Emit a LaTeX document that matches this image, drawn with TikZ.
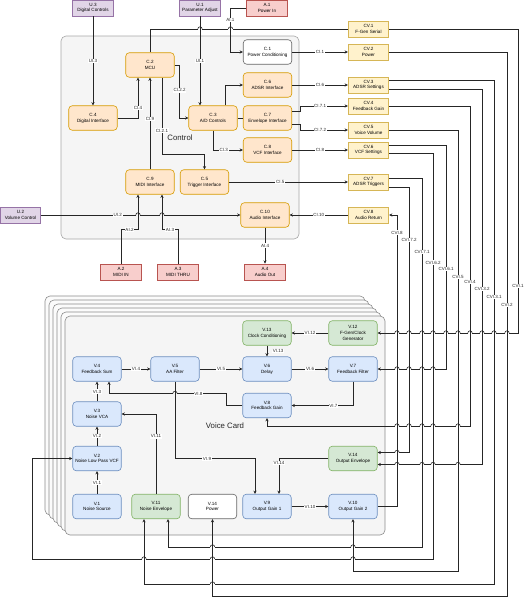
\documentclass[tikz,border=0pt]{standalone}
\usepackage{fontspec}
\setmainfont{Liberation Sans}
\usetikzlibrary{arrows.meta,calc}
\definecolor{oF}{HTML}{FFE6CC}\definecolor{oS}{HTML}{D79B00}
\definecolor{bF}{HTML}{DAE8FC}\definecolor{bS}{HTML}{6C8EBF}
\definecolor{gF}{HTML}{D5E8D4}\definecolor{gS}{HTML}{82B366}
\definecolor{pF}{HTML}{E1D5E7}\definecolor{pS}{HTML}{9673A6}
\definecolor{rF}{HTML}{F8CECC}\definecolor{rS}{HTML}{B85450}
\definecolor{yF}{HTML}{FFF2CC}\definecolor{yS}{HTML}{D6B656}
\definecolor{cF}{HTML}{F5F5F5}\definecolor{cS}{HTML}{666666}
\tikzset{
 nbox/.style={draw, rounded corners=3.5pt, minimum width=48.5pt, minimum height=24.5pt, align=center, inner sep=0pt, font=\fontsize{4.6}{5.8}\selectfont, line width=0.6pt},
 obox/.style={nbox, fill=oF, draw=oS},
 bbox/.style={nbox, fill=bF, draw=bS},
 gbox/.style={nbox, fill=gF, draw=gS},
 wbox/.style={nbox, fill=white, draw=cS},
 sbox/.style={draw, minimum width=40.5pt, minimum height=16.2pt, align=center, inner sep=0pt, font=\fontsize{4.6}{5.6}\selectfont, line width=0.6pt},
 pbox/.style={sbox, fill=pF, draw=pS},
 rbox/.style={sbox, fill=rF, draw=rS},
 ybox/.style={sbox, fill=yF, draw=yS},
 wire/.style={draw=black!85, line width=0.6pt},
 arr/.style={wire, -{Stealth[length=3.3pt,width=3.1pt]}},
 lbl/.style={fill=white, inner sep=0.6pt, font=\fontsize{4.5}{5}\selectfont, text=black!85},
 card/.style={draw=black!45, fill=cF, rounded corners=5pt, line width=0.6pt},
 backcard/.style={card, fill=white!60!cF},
 biglbl/.style={font=\fontsize{7.8}{9}\selectfont, text=black!85},
}
% line jump: horizontal wire hops over a vertical one at (#2,#3)
\newcommand\hopover[3][white]{%
  \fill[#1] (#2-2.3,#3-0.75) rectangle (#2+2.3,#3+0.75);
  \draw[wire] (#2-2.2,#3) arc (180:360:2.2);
  \draw[wire] (#2,#3-1.2) -- (#2,#3+1.2);}
\begin{document}
\begin{tikzpicture}[x=1pt,y=-1pt]
\useasboundingbox (0,0) rectangle (525,600);
% ---------- Control container ----------
\node[draw=black!35, fill=cF, rounded corners=5pt, minimum width=238pt, minimum height=203pt, line width=0.6pt] (ctrl) at (180,137.5) {};
\node[biglbl] (ctrllbl) at (180,138) {Control};
% ---------- Voice card stack ----------
\foreach \k in {5,4,3,2,1} {
  \path[backcard] ({65-4*\k},{316-4*\k}) rectangle ({385-4*\k},{535-4*\k});
}
\node[card, minimum width=320pt, minimum height=219pt] (vcard) at (225,425.5) {};
\node[biglbl] (vlbl) at (225,426) {Voice Card};
% ---------- top inputs ----------
\node[pbox] (U3) at (93,8) {U.3\\Digital Controls};
\node[pbox] (U1) at (200,8) {U.1\\Parameter Adjust};
\node[rbox] (A1) at (267,8) {A.1\\Power In};
\node[pbox] (U2) at (20.5,215) {U.2\\Volume Control};
\node[rbox] (A2) at (121,272) {A.2\\MIDI IN};
\node[rbox] (A3) at (178,272) {A.3\\MIDI THRU};
\node[rbox] (A4) at (265,272) {A.4\\Audio Out};
% ---------- control nodes ----------
\node[obox] (C2) at (150,65) {C.2\\MCU};
\node[obox] (C4) at (93,118) {C.4\\Digital Interface};
\node[obox] (C3) at (213,118) {C.3\\A/D Controls};
\node[wbox] (C1) at (267.5,52) {C.1\\Power Conditioning};
\node[obox] (C6) at (267.5,85) {C.6\\ADSR Interface};
\node[obox] (C7) at (267.5,118) {C.7\\Envelope Interface};
\node[obox] (C8) at (267.5,150) {C.8\\VCF Interface};
\node[obox] (C9) at (150,182) {C.9\\MIDI Interface};
\node[obox] (C5) at (204.5,182) {C.5\\Trigger Interface};
\node[obox] (C10) at (265,215) {C.10\\Audio Interface};
% ---------- CV column ----------
\node[ybox] (CV1) at (368.5,29) {CV.1\\F-Gen Serial};
\node[ybox] (CV2) at (368.5,52) {CV.2\\Power};
\node[ybox] (CV3) at (368.5,85) {CV.3\\ADSR Settings};
\node[ybox] (CV4) at (368.5,106) {CV.4\\Feedback Gain};
\node[ybox] (CV5) at (368.5,130) {CV.5\\Voice Volume};
\node[ybox] (CV6) at (368.5,150) {CV.6\\VCF Settings};
\node[ybox] (CV7) at (368.5,182) {CV.7\\ADSR Triggers};
\node[ybox] (CV8) at (368.5,215) {CV.8\\Audio Return};
% ---------- voice nodes ----------
\node[gbox] (V13) at (267,333) {V.13\\Clock Conditioning};
\node[gbox] (V12) at (353,333) {V.12\\F-Gen/Clock\\Generator};
\node[bbox] (V4) at (97,369) {V.4\\Feedback Sum};
\node[bbox] (V5) at (175,369) {V.5\\AA Filter};
\node[bbox] (V6) at (267,369) {V.6\\Delay};
\node[bbox] (V7) at (353,369) {V.7\\Feedback Filter};
\node[bbox] (V8) at (267,405.5) {V.8\\Feedback Gain};
\node[bbox] (V3) at (97,414) {V.3\\Noise VCA};
\node[bbox] (V2) at (97,458.5) {V.2\\Noise Low Pass VCF};
\node[gbox] (V14E) at (353,458.5) {V.14\\Output Envelope};
\node[bbox] (V1) at (97,506.5) {V.1\\Noise Source};
\node[gbox] (V11) at (156,506.5) {V.11\\Noise Envelope};
\node[wbox] (V14P) at (212.5,506.5) {V.14\\Power};
\node[bbox] (V9) at (267,506.5) {V.9\\Output Gain 1};
\node[bbox] (V10) at (353,506.5) {V.10\\Output Gain 2};
% ---------- control connectors ----------
\draw[arr] (U3) -- node[lbl]{UI.3} (C4);
\draw[arr] (U1.south) -- node[lbl]{UI.1} (U1.south |- C3.north);
\draw[arr] (A1.west) -- ++(-16,0) |- node[lbl,pos=0.14]{AI.1} (C1.west);
\draw[wire] (C2.north) |- (CV1.west);
\draw[arr] (C4.east) -| node[lbl,pos=0.62]{CI.4} ($(C2.south)+(-12,0)$);
\draw[arr] (C9.north) -- node[lbl,pos=0.55]{CI.9} (C2.south);
\draw[arr] (C2.east) -- ++(5,0) |- node[lbl,pos=0.24]{CI.2.2} (C3.west);
\draw[arr] ($(C2.south)+(12,0)$) -- node[lbl,pos=0.69]{CI.2.1} ++(0,77) -| (C5.north);
\draw[arr] ($(C3.north)+(12,0)$) |- (C6.west);
\draw[wire] (C3.east) -- (C7.west);
\draw[arr] (C3.south) |- node[lbl,pos=0.68]{CI.3} (C8.west);
\draw[arr] (C1) -- node[lbl]{CI.1} (CV2);
\draw[arr] (C6) -- node[lbl]{CI.6} (CV3);
\draw[arr] ($(C7.east)+(0,-7)$) -- ++(8,0) |- node[lbl,pos=0.71]{CI.7.1} (CV4.west);
\draw[arr] ($(C7.east)+(0,6)$) -- ++(8,0) |- node[lbl,pos=0.71]{CI.7.2} (CV5.west);
\draw[arr] (C8) -- node[lbl]{CI.8} (CV6);
\draw[arr] (C5) -- node[lbl,pos=0.43]{CI.5} (CV7);
\draw[arr] (CV8) -- node[lbl]{CI.10} (C10);
\draw[arr] (U2) -- node[lbl,pos=0.385]{UI.2} (C10);
\draw[arr] (A2.north) -- ++(0,-34) -| node[lbl,pos=0.25]{AI.2} ($(C9.south)+(-12,0)$);
\draw[arr] (A3.north) -- ++(0,-34) -| node[lbl,pos=0.25]{AI.3} ($(C9.south)+(12,0)$);
\draw[arr] (C10) -- node[lbl]{AI.4} (A4);
% ---------- bus ----------
\draw[wire] (CV1.east) -- (518,29);
\draw[arr] (518,29) -- node[lbl,pos=0.845]{CVI.1} (518,333) -- (V12.east);
\draw[arr] (CV2.east) -- (507,52) -- node[lbl,pos=0.465]{CVI.2} (507,596) -- (212.5,596) -- (V14P.south);
\draw[arr] ($(CV3.east)+(0,-5)$) -- (494,80) -- node[lbl,pos=0.43]{CVI.3.1} (494,584) -- (144,584) -- ($(V11.south)+(-12,0)$);
\draw[arr] ($(CV3.east)+(0,4)$) -- (482,89) -- node[lbl,pos=0.533]{CVI.3.2} (482,464.5) -- ($(V14E.east)+(0,6)$);
\draw[arr] (CV4.east) -- (470,106) -- node[lbl,pos=0.55]{CVI.4} (470,426) -- (267,426) -- (V8.south);
\draw[arr] (CV5.east) -- (458,130) -- node[lbl,pos=0.333]{CVI.5} (458,571) -- (353,571) -- (V10.south);
\draw[arr] ($(CV6.east)+(0,-5)$) -- (446,145) -- node[lbl,pos=0.554]{CVI.6.1} (446,369) -- (V7.east);
\draw[arr] ($(CV6.east)+(0,3)$) -- (433,153) -- node[lbl,pos=0.27]{CVI.6.2} (433,559) -- (32,559) -- (32,458.5) -- (V2.west);
\draw[arr] ($(CV7.east)+(0,-4)$) -- (422,178) -- node[lbl,pos=0.2]{CVI.7.1} (422,547) -- (168,547) -- ($(V11.south)+(12,0)$);
\draw[arr] ($(CV7.east)+(0,5)$) -- (409,187) -- node[lbl,pos=0.2]{CVI.7.2} (409,452.5) -- ($(V14E.east)+(0,-6)$);
\draw[arr] (V10.east) -- (397,506.5) -- node[lbl,pos=0.94]{CVI.8} (397,215) -- (CV8.east);
% ---------- voice connectors ----------
\draw[arr] (V4) -- node[lbl]{VI.4} (V5);
\draw[arr] (V5) -- node[lbl]{VI.5} (V6);
\draw[arr] (V6) -- node[lbl]{VI.6} (V7);
\draw[arr] (V12) -- node[lbl]{VI.12} (V13);
\draw[arr] (V13) -- node[lbl,anchor=west,xshift=5pt]{VI.13} (V6);
\draw[arr] (V7.south) |- node[lbl,pos=0.66]{VI.7} (V8.east);
\draw[arr] (V8.west) -- ++(-16,0) -- ++(0,-12) -| node[lbl,pos=0.12]{VI.8} ($(V4.south)+(12,0)$);
\draw[arr] (V3) -- node[lbl]{VI.3} (V4);
\draw[arr] (V2) -- node[lbl]{VI.2} (V3);
\draw[arr] (V1) -- node[lbl]{VI.1} (V2);
\draw[arr] (V11.north) |- node[lbl,pos=0.36]{VI.11} (V3.east);
\draw[arr] (V5.south) -- (V5.south |- V2.center) -| node[lbl,pos=0.2]{VI.9} ($(V9.north)+(-12,0)$);
\draw[arr] (V14E.west) -| node[lbl,pos=0.56]{VI.14} ($(V9.north)+(12,0)$);
\draw[arr] (V9) -- node[lbl]{VI.10} (V10);
% ---------- line jumps ----------
\hopover{200}{29}\hopover{230.5}{29}
\hopover[cF]{138}{215}\hopover[cF]{162}{215}
\hopover[cF]{175}{393.5}
\foreach \xx in {397,409,422,433,446,458,470,482,494,507} {\hopover{\xx}{333}}
\foreach \xx in {397,409,422,433} {\hopover{\xx}{369}}
\foreach \xx in {397,409,422,433,458} {\hopover{\xx}{426}}
\hopover{397}{452.5}
\foreach \xx in {397,422,433,458} {\hopover{\xx}{464.5}}
\foreach \xx in {212.5,353} {\hopover{\xx}{547}}
\foreach \xx in {144,212.5,353} {\hopover{\xx}{559}}
\hopover{212.5}{584}
\end{tikzpicture}
\end{document}
